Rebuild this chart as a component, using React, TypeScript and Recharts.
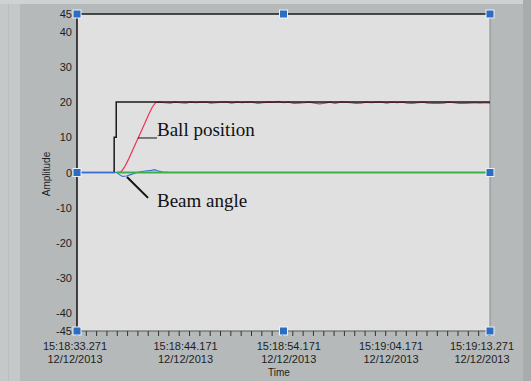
import React from 'react';
import {
  LineChart, Line, XAxis, YAxis, CartesianGrid, ReferenceLine, ReferenceDot
} from 'recharts';

// time in seconds from 15:18:33.271
const setpointTime = [0, 3.6, 3.6, 3.8, 3.8, 40];
const setpointValue = [0, 0, 10, 10, 20, 20];

const ballTime = [
  0, 4.0, 4.3, 4.6, 5.0, 5.4, 5.8, 6.2, 6.6, 7.0, 7.3, 7.6, 7.9,
  8.5, 9, 9.5, 10, 10.5, 11, 11.5, 12, 12.5, 13, 13.5, 14, 14.5, 15, 15.5, 16,
  16.5, 17, 17.5, 18, 18.5, 19, 19.5, 20, 20.5, 21, 21.5, 22, 22.5, 23, 23.5, 24,
  24.5, 25, 25.5, 26, 26.5, 27, 27.5, 28, 28.5, 29, 29.5, 30, 30.5, 31, 31.5, 32,
  32.5, 33, 33.5, 34, 34.5, 35, 35.5, 36, 36.5, 37, 37.5, 38, 38.5, 39, 39.5, 40,
];
const ballValue = [
  0, 0, 0.3, 1.5, 3.8, 6.4, 9.0, 11.6, 14.2, 16.8, 18.6, 19.8, 20,
  19.8, 19.7, 20, 19.8, 19.7, 20, 19.8, 20, 20, 19.7, 19.8, 20, 20, 19.7, 20, 19.8,
  20, 20, 19.6, 19.8, 20, 19.9, 20.2, 19.8, 20, 19.6, 19.7, 19.8, 20, 19.7, 19.5, 19.7,
  20, 19.6, 20, 20, 19.8, 19.6, 19.7, 20, 19.8, 20, 20, 19.7, 20, 19.8, 20, 19.7,
  19.6, 19.8, 20, 19.7, 19.6, 19.6, 19.7, 20, 19.8, 19.6, 19.6, 19.7, 19.8, 19.7, 19.8, 19.7,
];

const beamTime = [0, 3.9, 4.1, 4.4, 4.8, 5.2, 5.8, 6.3, 6.8, 7.2, 7.5, 7.8, 8.3, 9, 40];
const beamValue = [0, 0, -0.6, -1.1, -1.0, -0.6, 0, 0.3, 0.5, 0.6, 0.8, 0.5, 0.1, 0, 0];

const greenTime = [3.8, 10, 20, 30, 40];
const greenValue = [0, 0, 0, 0, 0];

const yTicks = [-45, -40, -30, -20, -10, 0, 10, 20, 30, 40, 45];
const majorTicks = [0, 10.9, 20.9, 30.9, 40];
const majorLabels = ['15:18:33.271', '15:18:44.171', '15:18:54.171', '15:19:04.171', '15:19:13.271'];
const labelShift = [-2, -4, -4, -5, -8];
const dateLabel = '12/12/2013';
const minorTicks = [
  0.9, 1.9, 2.9, 3.9, 4.9, 5.9, 6.9, 7.9, 8.9, 9.9,
  11.9, 12.9, 13.9, 14.9, 15.9, 16.9, 17.9, 18.9, 19.9,
  21.9, 22.9, 23.9, 24.9, 25.9, 26.9, 27.9, 28.9, 29.9,
  31.9, 32.9, 33.9, 34.9, 35.9, 36.9, 37.9, 38.9, 39.9,
];
const handles = [
  { t: 0, v: 45 }, { t: 20, v: 45 }, { t: 40, v: 45 },
  { t: 0, v: 0 }, { t: 40, v: 0 },
  { t: 0, v: -45 }, { t: 20, v: -45 }, { t: 40, v: -45 },
];

const toPoints = (t: number[], v: number[]) => t.map((x, i) => ({ t: x, v: v[i] }));

const sansFont = '"Liberation Sans", Arial, sans-serif';
const serifFont = '"Liberation Serif", "Times New Roman", serif';

// y here is the end of the 5px tick line
const XTick = ({ x, y, payload }: any) => {
  const idx = majorTicks.indexOf(payload.value);
  if (idx < 0) return <g />;
  const lx = x + labelShift[idx];
  return (
    <g>
      <text x={lx} y={y + 14} textAnchor="middle" fontSize={11} fontFamily={sansFont} fill="#1e1e1e">{majorLabels[idx]}</text>
      <text x={lx} y={y + 27} textAnchor="middle" fontSize={11} fontFamily={sansFont} fill="#1e1e1e">{dateLabel}</text>
    </g>
  );
};

const YTick = ({ x, y, payload }: any) => (
  <text x={x - 5} y={y + 4} textAnchor="end" fontSize={11} fontFamily={sansFont} fill="#1e1e1e">{payload.value}</text>
);

const Handle = ({ cx, cy }: any) => (
  <rect x={cx - 4} y={cy - 4} width={8} height={8} fill="#2b6cc4" stroke="#eef2f8" strokeWidth={1} />
);

const Note = (text: string) => ({ cx, cy }: any) => (
  <text x={cx} y={cy} fontSize={19} fontFamily={serifFont} fill="#111">{text}</text>
);

export default function App() {
  return (
    <div style={{ position: 'absolute', left: 0, top: 0, width: 531, height: 381, background: '#b5b9ba', overflow: 'hidden' }}>
      <div style={{ position: 'absolute', left: 0, top: 0, width: 20, height: 381, background: '#c4c8c9' }} />
      <div style={{ position: 'absolute', left: 8, top: 0, width: 1, height: 381, background: '#b9bdbe' }} />
      <div style={{ position: 'absolute', left: 0, top: 0, width: 531, height: 4, background: '#cfd2d3' }} />
      <div style={{ position: 'absolute', left: 523, top: 0, width: 8, height: 381, background: '#a8acad' }} />
      <div style={{ position: 'absolute', left: 0, top: 0 }}>
        <LineChart width={531} height={381} margin={{ top: 14, right: 41, bottom: 0, left: 0 }}>
          <CartesianGrid horizontal={false} vertical={false} fill="#e0e0e0" stroke="none" />
          <XAxis
            dataKey="t"
            type="number"
            domain={[0, 40]}
            ticks={[...majorTicks, ...minorTicks]}
            interval={0}
            height={50}
            tickSize={5}
            tickMargin={0}
            tickLine={{ stroke: '#333', strokeWidth: 1 }}
            axisLine={{ stroke: '#555', strokeWidth: 1 }}
            tick={<XTick />}
            allowDataOverflow
          />
          <YAxis
            type="number"
            domain={[-45, 45]}
            ticks={yTicks}
            interval={0}
            width={77}
            tickSize={0}
            tickMargin={0}
            tickLine={false}
            axisLine={{ stroke: '#111', strokeWidth: 1.5 }}
            tick={<YTick />}
            allowDataOverflow
          />
          <ReferenceLine y={45} stroke="#1a1a1a" strokeWidth={1.5} />
          <ReferenceLine x={40} stroke="#8a8a8a" strokeWidth={1} />
          <Line data={toPoints(ballTime, ballValue)} dataKey="v" type="linear" stroke="#ee3358" strokeWidth={1.2} dot={false} isAnimationActive={false} />
          <Line data={toPoints(setpointTime, setpointValue)} dataKey="v" type="linear" stroke="#1a1a1a" strokeWidth={1.5} dot={false} isAnimationActive={false} />
          <Line data={toPoints(beamTime, beamValue)} dataKey="v" type="linear" stroke="#3a6fd0" strokeWidth={1.1} dot={false} isAnimationActive={false} />
          <Line data={toPoints(greenTime, greenValue)} dataKey="v" type="linear" stroke="#3bb04a" strokeWidth={2} dot={false} isAnimationActive={false} />
          <ReferenceLine segment={[{ x: 5.9, y: 9.8 }, { x: 7.75, y: 9.8 }]} stroke="#111" strokeWidth={1} />
          <ReferenceLine segment={[{ x: 4.84, y: -1.3 }, { x: 6.88, y: -7.2 }]} stroke="#111" strokeWidth={2} />
          <ReferenceDot x={7.75} y={10.4} r={0} shape={Note('Ball position')} ifOverflow="visible" />
          <ReferenceDot x={7.75} y={-9.8} r={0} shape={Note('Beam angle')} ifOverflow="visible" />
          {handles.map((h, i) => (
            <ReferenceDot key={i} x={h.t} y={h.v} r={4} shape={<Handle />} ifOverflow="visible" />
          ))}
        </LineChart>
        <div style={{ position: 'absolute', left: 279, top: 367, transform: 'translateX(-50%)', fontSize: 10, fontFamily: sansFont, color: '#1e1e1e', whiteSpace: 'nowrap' }}>Time</div>
        <div style={{ position: 'absolute', left: 46, top: 174, transform: 'translate(-50%, -50%) rotate(-90deg)', fontSize: 10, fontFamily: sansFont, color: '#1e1e1e', whiteSpace: 'nowrap' }}>Amplitude</div>
      </div>
    </div>
  );
}
